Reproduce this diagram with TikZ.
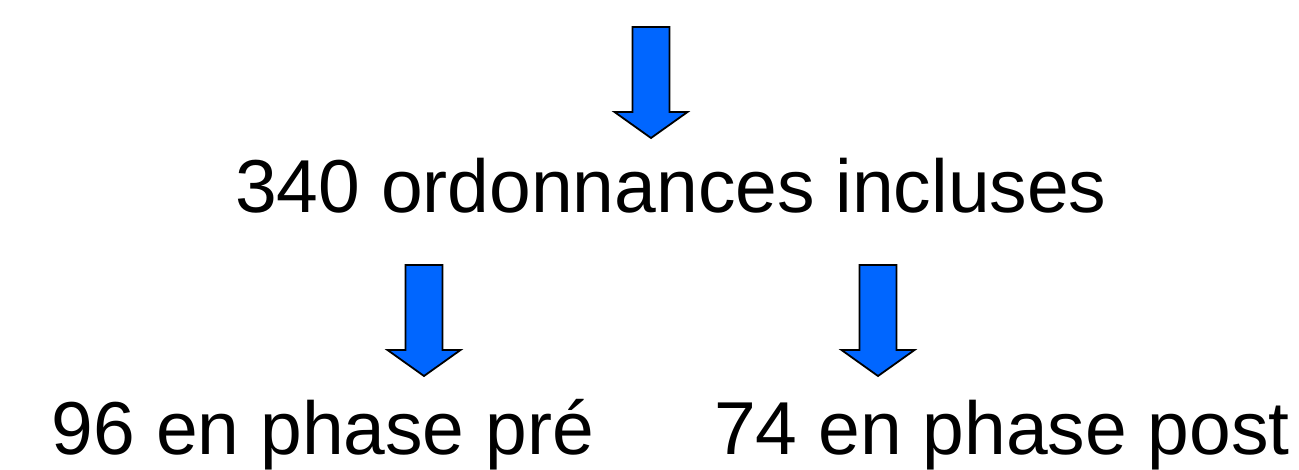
\documentclass[tikz,border=0pt]{standalone}
\usepackage{fontspec}
\setmainfont{Liberation Sans}
\definecolor{arrowblue}{HTML}{0066FF}
\tikzset{
  label text/.style={font=\fontsize{75}{82}\selectfont, inner sep=0pt, anchor=base},
  blockarrow/.pic={
    \draw[fill=arrowblue, line width=1.8pt, line join=miter]
      (-18.5,0) -- (18.5,0) -- (18.5,85) -- (36.5,85) -- (0,111)
      -- (-36.5,85) -- (-18.5,85) -- cycle;
  }
}
\begin{document}
\begin{tikzpicture}[x=1pt, y=-1pt]
  \useasboundingbox (0,0) rectangle (1299,469);
  % downward block arrows
  \pic (top) at (651,27) {blockarrow};
  \pic (left) at (424,265) {blockarrow};
  \pic (right) at (878,265) {blockarrow};
  % labels
  \node[label text] (total) at (671,212) {340 ordonnances incluses};
  \node[label text] (pre) at (323,454) {96 en phase pré};
  \node[label text] (post) at (1002,454) {74 en phase post};
\end{tikzpicture}
\end{document}
